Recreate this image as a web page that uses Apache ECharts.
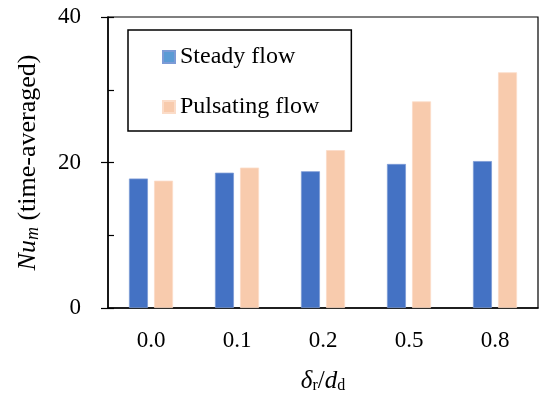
<!DOCTYPE html>
<html>
<head>
<meta charset="utf-8">
<script src="https://cdn.jsdelivr.net/npm/echarts@6/dist/echarts.min.js"></script>
<style>
  html, body { margin: 0; padding: 0; background: #fff; }
  #chart { width: 540px; height: 399px; }
</style>
</head>
<body>
<div id="chart"></div>
<script>
// Relative roughness ratio categories and time-averaged Nusselt numbers
const categories = ['0.0', '0.1', '0.2', '0.5', '0.8'];
const steadyFlow = [17.8, 18.6, 18.8, 19.8, 20.2];
const pulsatingFlow = [17.5, 19.3, 21.7, 28.4, 32.4];
const yTicks = [0, 20, 40];

const serif = "'Liberation Serif', 'Times New Roman', serif";

const chart = echarts.init(document.getElementById('chart'), null, { renderer: 'canvas' });

chart.setOption({
  animation: false,
  textStyle: { fontFamily: serif, color: '#000' },
  grid: {
    left: 108, right: 2, top: 17, bottom: 88,
    show: true, borderColor: '#000', borderWidth: 1.2, backgroundColor: 'transparent'
  },
  legend: {
    orient: 'vertical',
    left: 128, top: 30,
    padding: [15, 32, 12, 34],
    borderColor: '#000', borderWidth: 1.5,
    itemWidth: 12, itemHeight: 12, itemGap: 26,
    icon: 'rect',
    textStyle: { fontFamily: serif, fontSize: 24, lineHeight: 24, color: '#000' },
    data: [
      { name: 'Steady flow', itemStyle: { color: '#5B9BD5' } },
      { name: 'Pulsating flow', itemStyle: { color: '#F8CBAD' } }
    ]
  },
  xAxis: {
    type: 'category',
    data: categories,
    axisLine: { show: true, lineStyle: { color: '#000', width: 1.5 } },
    axisTick: { show: false },
    axisLabel: { fontFamily: serif, fontSize: 23, color: '#000', margin: 21 },
    name: '{i|δ}{s|r}{n|/}{i|d}{s|d}',
    nameLocation: 'middle',
    nameGap: 60,
    nameTextStyle: {
      rich: {
        i: { fontFamily: serif, fontStyle: 'italic', fontSize: 25, color: '#000' },
        n: { fontFamily: serif, fontSize: 25, color: '#000' },
        s: { fontFamily: serif, fontSize: 16, color: '#000', padding: [10, 0, 0, 0] }
      }
    }
  },
  yAxis: [
    {
      type: 'value',
      min: 0, max: 40, interval: 20,
      axisLine: { show: true, lineStyle: { color: '#000', width: 1.5 } },
      axisTick: { show: true, inside: false, length: 7, lineStyle: { color: '#000', width: 1.2 } },
      axisLabel: {
        fontFamily: serif, fontSize: 23, color: '#000', margin: 27,
        customValues: yTicks
      },
      splitLine: { show: false },
      name: '{i|Nu}{s|m}{n| (time-averaged)}',
      nameLocation: 'middle',
      nameRotate: 90,
      nameGap: 66,
      nameTextStyle: {
        rich: {
          i: { fontFamily: serif, fontStyle: 'italic', fontSize: 26, color: '#000' },
          n: { fontFamily: serif, fontSize: 26, color: '#000' },
          s: { fontFamily: serif, fontStyle: 'italic', fontSize: 18, color: '#000', padding: [10, 0, 0, 0] }
        }
      }
    },
    {
      // inner tick marks every 10 units
      type: 'value',
      position: 'left',
      min: 0, max: 40, interval: 10,
      axisLine: { show: false },
      axisTick: { show: true, inside: true, length: 6, lineStyle: { color: '#000', width: 1.2 } },
      axisLabel: { show: false },
      splitLine: { show: false }
    }
  ],
  series: [
    {
      name: 'Steady flow',
      type: 'bar',
      data: steadyFlow,
      barWidth: 19,
      barGap: '32%',
      itemStyle: { color: '#4472C4', borderColor: '#7C9BD6', borderWidth: 0.8 }
    },
    {
      name: 'Pulsating flow',
      type: 'bar',
      data: pulsatingFlow,
      barWidth: 19,
      itemStyle: { color: '#F8CBAD', borderColor: '#FBDCC8', borderWidth: 0.8 }
    }
  ]
});
</script>
</body>
</html>
